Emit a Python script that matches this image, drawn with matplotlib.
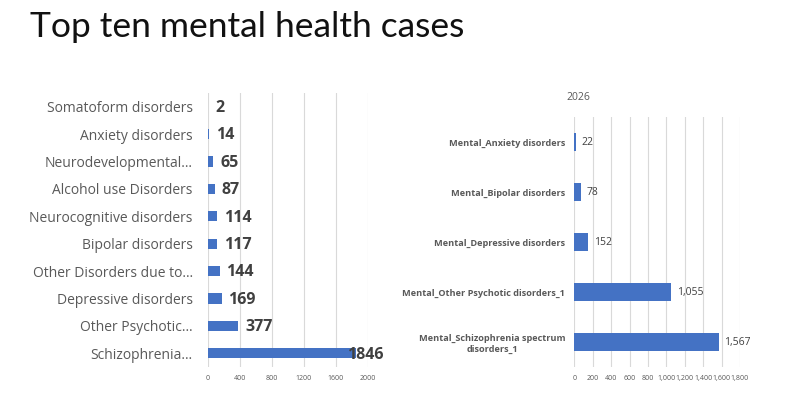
import matplotlib
matplotlib.use("Agg")
import matplotlib.pyplot as plt

# Left chart data (top to bottom)
left_categories = ["Somatoform disorders", "Anxiety disorders", "Neurodevelopmental…",
                   "Alcohol use Disorders", "Neurocognitive disorders", "Bipolar disorders",
                   "Other Disorders due to…", "Depressive disorders", "Other Psychotic…",
                   "Schizophrenia…"]
left_values = [2, 14, 65, 87, 114, 117, 144, 169, 377, 1846]
left_ticks = [0, 400, 800, 1200, 1600, 2000]

# Right chart data (top to bottom)
right_title = "2026"
right_categories = ["Mental_Anxiety disorders", "Mental_Bipolar disorders",
                    "Mental_Depressive disorders", "Mental_Other Psychotic disorders_1",
                    "Mental_Schizophrenia spectrum\ndisorders_1"]
right_values = [22, 78, 152, 1055, 1567]
right_ticks = [0, 200, 400, 600, 800, 1000, 1200, 1400, 1600, 1800]

BLUE = "#4472C4"
GRID = "#d9d9d9"
TXT = "#595959"
DARK = "#404040"
FONT = ["Open Sans", "DejaVu Sans"]

fig = plt.figure(figsize=(7.88, 4.05), dpi=100)
fig.text(30/788, 1-27/405, "Top ten mental health cases", fontsize=25.5, family=["Lato", "DejaVu Sans"],
         fontweight="normal", va="center", ha="left", color="#111111")

def style(ax, ticks, fmt):
    for s in ax.spines.values():
        s.set_visible(False)
    ax.set_xticks(ticks)
    ax.set_xticklabels([fmt(t) for t in ticks], fontsize=5, color=TXT, family=FONT)
    ax.xaxis.grid(True, color=GRID, linewidth=0.8)
    ax.set_axisbelow(True)
    ax.tick_params(axis="both", length=0)
    ax.tick_params(axis="x", pad=6)

# Left
ax1 = fig.add_axes([208/788, 1-367/405, 160/788, 274/405])
y1 = list(range(len(left_values)))
ax1.barh(y1, left_values, height=0.37, color=BLUE)
ax1.set_ylim(len(left_values)-0.5, -0.5)
ax1.set_xlim(0, 2000)
style(ax1, left_ticks, lambda t: f"{t}")
ax1.set_yticks(y1)
ax1.set_yticklabels(left_categories, fontsize=10, color=TXT, family=FONT)
ax1.tick_params(axis="y", pad=11)
for yi, v in zip(y1, left_values):
    off = 5 if v < 1500 else -6
    ax1.annotate(f"{v}", (v, yi), xytext=(off, -1), textcoords="offset points",
                 va="center", ha="left", fontsize=11.5, fontweight="bold", color=DARK,
                 family=FONT, annotation_clip=False)

# Right
ax2 = fig.add_axes([574.3/788, 1-367/405, 165.7/788, 250/405])
y2 = list(range(len(right_values)))
ax2.barh(y2, right_values, height=0.35, color=BLUE)
ax2.set_ylim(len(right_values)-0.5, -0.5)
ax2.set_xlim(0, 1800)
style(ax2, right_ticks, lambda t: f"{t:,}")
ax2.set_yticks(y2)
ax2.set_yticklabels(right_categories, fontsize=6.6, color=TXT, fontweight="bold",
                    family=FONT, ha="right", multialignment="center")
ax2.tick_params(axis="y", pad=6.5)
for yi, v in zip(y2, right_values):
    ax2.annotate(f"{v:,}", (v, yi), xytext=(4, 0), textcoords="offset points",
                 va="center", ha="left", fontsize=7.5, color=DARK, family=FONT,
                 annotation_clip=False)
fig.text(578/788, 1-98/405, right_title, fontsize=7.5, color=TXT, ha="center", va="center",
         family=FONT)

fig.savefig("out.png", dpi=100)
